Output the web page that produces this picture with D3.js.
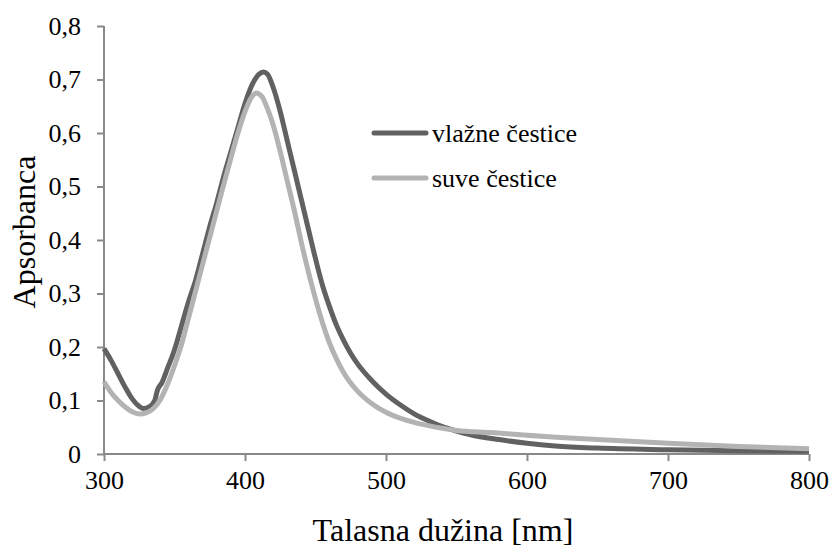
<!DOCTYPE html>
<html><head><meta charset="utf-8">
<script src="https://cdn.jsdelivr.net/npm/d3@7"></script>
</head><body style="margin:0;background:#fff"><svg id="c" width="831" height="549" style="font-family:serif"></svg>
<script>
const xTicks = [300, 400, 500, 600, 700, 800];
const yTicks = [0, 0.1, 0.2, 0.3, 0.4, 0.5, 0.6, 0.7, 0.8];
const yTickLabels = ["0", "0,1", "0,2", "0,3", "0,4", "0,5", "0,6", "0,7", "0,8"];
const seriesNames = ["vlažne čestice", "suve čestice"];
const wetWl = [300,305,310,315,320,325,328,332,336,338,341,345,350,355,360,365,370,375,380,385,390,395,400,405,410,413,416,420,425,430,435,440,445,450,455,460,465,470,475,480,490,500,510,520,530,540,550,560,580,600,620,650,700,750,800];
const wetA  = [0.197,0.175,0.150,0.125,0.103,0.089,0.085,0.088,0.100,0.120,0.133,0.160,0.195,0.240,0.285,0.325,0.375,0.425,0.470,0.520,0.565,0.610,0.655,0.690,0.710,0.714,0.710,0.685,0.640,0.585,0.530,0.475,0.420,0.365,0.315,0.275,0.240,0.212,0.188,0.168,0.137,0.112,0.092,0.075,0.062,0.051,0.043,0.036,0.027,0.020,0.015,0.011,0.008,0.006,0.005];
const dryWl = [300,305,310,315,320,325,330,335,340,345,350,355,360,365,370,375,380,385,390,395,400,404,408,412,416,420,425,430,435,440,445,450,455,460,465,470,480,490,500,510,520,530,540,550,575,600,650,700,750,800];
const dryA  = [0.135,0.115,0.100,0.088,0.079,0.075,0.077,0.085,0.102,0.130,0.165,0.205,0.255,0.305,0.355,0.405,0.455,0.505,0.553,0.600,0.640,0.664,0.675,0.668,0.645,0.615,0.565,0.510,0.455,0.395,0.340,0.290,0.245,0.207,0.177,0.152,0.117,0.094,0.078,0.067,0.059,0.053,0.048,0.044,0.040,0.035,0.027,0.020,0.014,0.010];
const colors = ["#616161", "#b3b3b3"];
const FONT = "serif";

const svg = d3.select("#c");
const x = d3.scaleLinear().domain([300, 800]).range([104, 809]);
const y = d3.scaleLinear().domain([0, 0.8]).range([454, 26]);
const axisColor = "#898989";

const yAx = svg.append("g").attr("transform", "translate(104,0)")
  .call(d3.axisLeft(y).tickValues(yTicks).tickFormat((d,i)=>yTickLabels[i]).tickSize(7).tickPadding(16));
const xAx = svg.append("g").attr("transform", "translate(0,454)")
  .call(d3.axisBottom(x).tickValues(xTicks).tickFormat(d3.format("d")).tickSize(7).tickPadding(10));
[yAx, xAx].forEach(g => {
  g.attr("font-family", FONT).attr("font-size", 26);
  g.select(".domain").attr("stroke", axisColor).attr("stroke-width", 2);
  g.selectAll(".tick line").attr("stroke", axisColor).attr("stroke-width", 2);
  g.selectAll("text").attr("font-family", FONT).attr("font-size", 26).attr("fill", "#000");
});
yAx.select(".domain").attr("d", "M0,454V26");
xAx.select(".domain").attr("d", "M104,0H809");

const line = d3.line().x(d => x(d[0])).y(d => y(d[1])).curve(d3.curveMonotoneX);
const wet = wetWl.map((w,i)=>[w, wetA[i]]);
const dry = dryWl.map((w,i)=>[w, dryA[i]]);
svg.append("path").datum(wet).attr("d", line).attr("fill","none").attr("stroke",colors[0]).attr("stroke-width",5).attr("stroke-linejoin","round");
svg.append("path").datum(dry).attr("d", line).attr("fill","none").attr("stroke",colors[1]).attr("stroke-width",5).attr("stroke-linejoin","round");

// legend
seriesNames.forEach((n,i) => {
  const yy = 133 + i*45;
  svg.append("line").attr("x1",374).attr("x2",426).attr("y1",yy).attr("y2",yy)
    .attr("stroke",colors[i]).attr("stroke-width",5).attr("stroke-linecap","round");
  svg.append("text").attr("x",432).attr("y",yy+9).attr("font-family",FONT).attr("font-size",26).attr("fill","#000").text(n);
});

svg.append("text").attr("x", 443).attr("y", 541).attr("text-anchor","middle").attr("font-family",FONT).attr("font-size",32).attr("fill","#000").text("Talasna dužina [nm]");
svg.append("text").attr("transform","translate(35,232) rotate(-90)").attr("text-anchor","middle").attr("font-family",FONT).attr("font-size",32).attr("fill","#000").text("Apsorbanca");
</script></body></html>
